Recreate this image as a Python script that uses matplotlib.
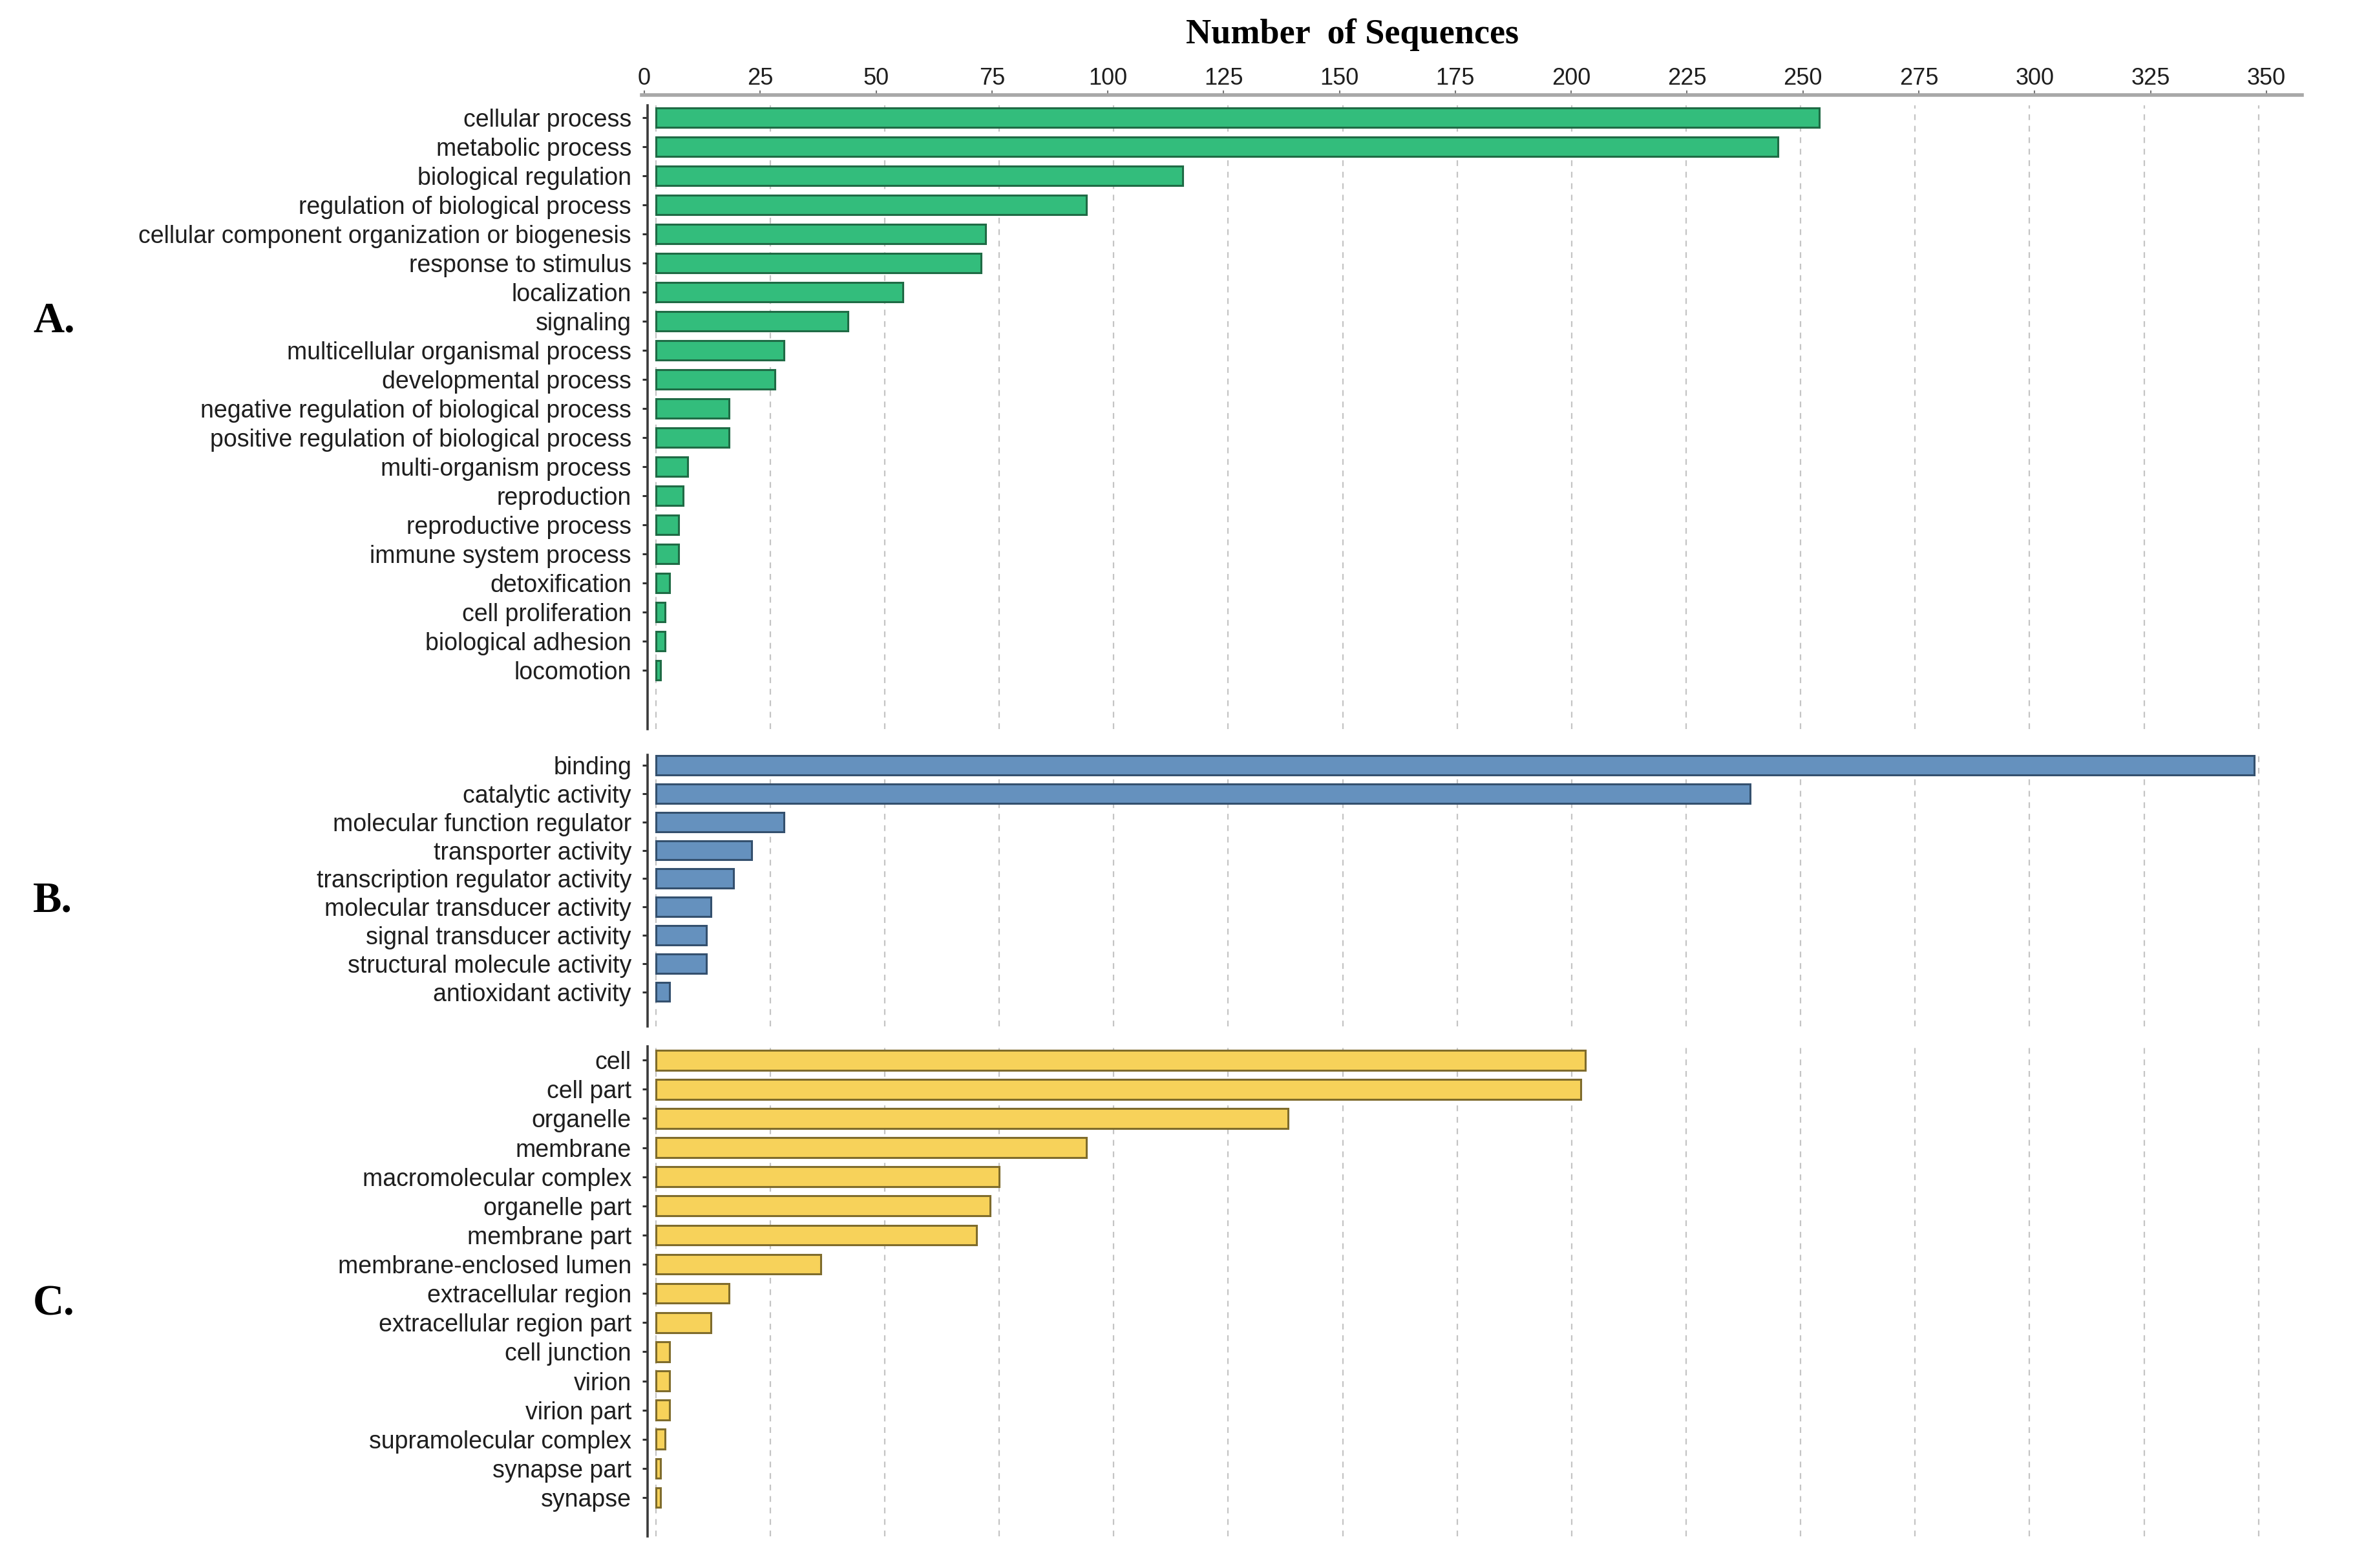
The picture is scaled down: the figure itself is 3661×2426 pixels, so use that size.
import matplotlib
matplotlib.use("Agg")
import matplotlib.pyplot as plt
import numpy as np

# ---------------- data ----------------
bp_labels = ["cellular process", "metabolic process", "biological regulation",
             "regulation of biological process",
             "cellular component organization or biogenesis",
             "response to stimulus", "localization", "signaling",
             "multicellular organismal process", "developmental process",
             "negative regulation of biological process",
             "positive regulation of biological process",
             "multi-organism process", "reproduction", "reproductive process",
             "immune system process", "detoxification", "cell proliferation",
             "biological adhesion", "locomotion"]
bp_values = [254, 245, 115, 94, 72, 71, 54, 42, 28, 26, 16, 16, 7, 6, 5, 5, 3, 2, 2, 1]

mf_labels = ["binding", "catalytic activity", "molecular function regulator",
             "transporter activity", "transcription regulator activity",
             "molecular transducer activity", "signal transducer activity",
             "structural molecule activity", "antioxidant activity"]
mf_values = [349, 239, 28, 21, 17, 12, 11, 11, 3]

cc_labels = ["cell", "cell part", "organelle", "membrane", "macromolecular complex",
             "organelle part", "membrane part", "membrane-enclosed lumen",
             "extracellular region", "extracellular region part", "cell junction",
             "virion", "virion part", "supramolecular complex", "synapse part",
             "synapse"]
cc_values = [203, 202, 138, 94, 75, 73, 70, 36, 16, 12, 3, 3, 3, 2, 1, 1]

x_ticks = list(range(0, 351, 25))
panel_letters = ["A.", "B.", "C."]
x_title = "Number  of Sequences"

# ---------------- layout ----------------
W, H = 3662, 2426
fig = plt.figure(figsize=(W / 100, H / 100), dpi=100)


def rect(x0, y0, x1, y1):
    return [x0 / W, 1 - y1 / H, (x1 - x0) / W, (y1 - y0) / H]


LABEL_FONT = "Liberation Sans"
SERIF = "Liberation Serif"

panels = [
    (bp_labels, bp_values, "#33BD7C", "#1F6B45", 163, 1128, -0.42, 21.02, 497),
    (mf_labels, mf_values, "#6591BE", "#34506E", 1168, 1588, -0.37, 9.22, 1394),
    (cc_labels, cc_values, "#F7D25A", "#7F6C2C", 1619, 2377, -0.47, 16.33, 2018),
]

for i, (labels, values, fc, ec, top, bot, ytop, ybot, ly) in enumerate(panels):
    ax = fig.add_axes(rect(1002, top, 3560, bot))
    y = np.arange(len(labels))
    ax.barh(y, values, height=0.68, color=fc, edgecolor=ec, linewidth=2.2, zorder=3)
    ax.set_ylim(ybot, ytop)
    ax.set_xlim(-1.78, 359.2)
    ax.set_yticks(y)
    ax.set_yticklabels(labels, fontsize=27, family=LABEL_FONT, color="#1e1e1e")
    ax.set_xticks(x_ticks)
    ax.tick_params(axis="x", which="both", length=0, labelbottom=False)
    ax.tick_params(axis="y", length=6, width=2.2, color="#333333", pad=12)
    ax.grid(axis="x", color="#c4c4c4", linestyle=(0, (4, 4)), linewidth=1.6, zorder=0)
    ax.set_axisbelow(True)
    for s in ["top", "right", "bottom"]:
        ax.spines[s].set_visible(False)
    ax.spines["left"].set_color("#3a3a3a")
    ax.spines["left"].set_linewidth(2.6)
    fig.text(51 / W, 1 - ly / H, panel_letters[i], fontsize=48, family=SERIF,
             fontweight="bold", ha="left", va="center")

# top axis with ticks and labels
axt = fig.add_axes(rect(993, 147, 3562, 149))
axt.set_xlim(-0.56, 357.7)
axt.set_ylim(0, 1)
axt.set_xticks(x_ticks)
axt.set_xticklabels([str(t) for t in x_ticks], fontsize=26, family=LABEL_FONT, color="#1e1e1e")
axt.xaxis.set_ticks_position("top")
axt.xaxis.set_label_position("top")
axt.tick_params(axis="x", length=5, width=1.5, color="#777777", pad=0.5)
axt.set_yticks([])
for s in ["left", "right", "bottom"]:
    axt.spines[s].set_visible(False)
axt.spines["top"].set_color("#a8a8a8")
axt.spines["top"].set_linewidth(4)
axt.patch.set_visible(False)

fig.text(2093 / W, 1 - 54 / H, x_title, fontsize=39, family=SERIF,
         fontweight="bold", ha="center", va="center")

fig.savefig("out.png", dpi=100, facecolor="white")
